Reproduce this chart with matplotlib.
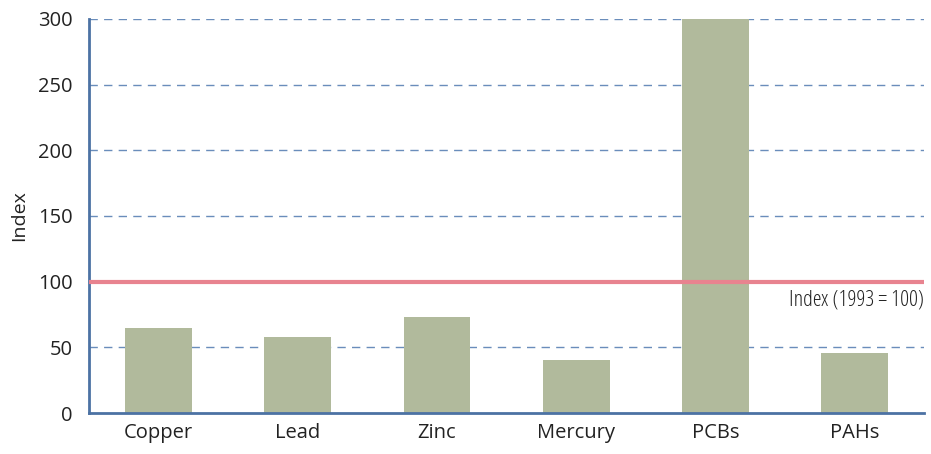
import matplotlib
matplotlib.use("Agg")
import matplotlib.pyplot as plt

categories = ["Copper", "Lead", "Zinc", "Mercury", "PCBs", "PAHs"]
index_values = [65, 58, 73, 40, 300, 46]
base_value = 100
base_label = "Index (1993 = 100)"
yticks = [0, 50, 100, 150, 200, 250, 300]

plt.rcParams["font.family"] = ["Open Sans", "DejaVu Sans"]

fig = plt.figure(figsize=(9.31, 4.54), dpi=100)
ax = fig.add_axes([0.0956, 0.0903, 0.897, 0.868])

x = list(range(len(categories)))
ax.bar(x, index_values, width=0.48, color="#b1ba9c", zorder=2)
ax.axhline(base_value, color="#e8838f", lw=3, zorder=3)
# label of the base line, right aligned under the line
ax.text(5.5, base_value - 6, base_label, ha="right", va="top", fontsize=16,
        family=["Open Sans"], fontstretch="condensed", color="#222222")

ax.set_xlim(-0.5, 5.5)
ax.set_ylim(0, 300)
ax.set_yticks(yticks)
ax.set_xticks(x)
ax.set_xticklabels(categories)
ax.tick_params(axis="both", length=0, labelsize=14.5, colors="#222222")
ax.tick_params(axis="x", pad=7)
ax.tick_params(axis="y", pad=12)
ax.set_ylabel("Index", fontsize=14, color="#222222", labelpad=7)

for y in yticks[1:]:
    ax.axhline(y, color="#6a8dbb", lw=1, ls=(0, (6, 4.5)), zorder=1)

for s in ["top", "right"]:
    ax.spines[s].set_visible(False)
for s in ["left", "bottom"]:
    ax.spines[s].set_color("#4c72a4")
    ax.spines[s].set_linewidth(2)

fig.savefig("out.png", dpi=100)
